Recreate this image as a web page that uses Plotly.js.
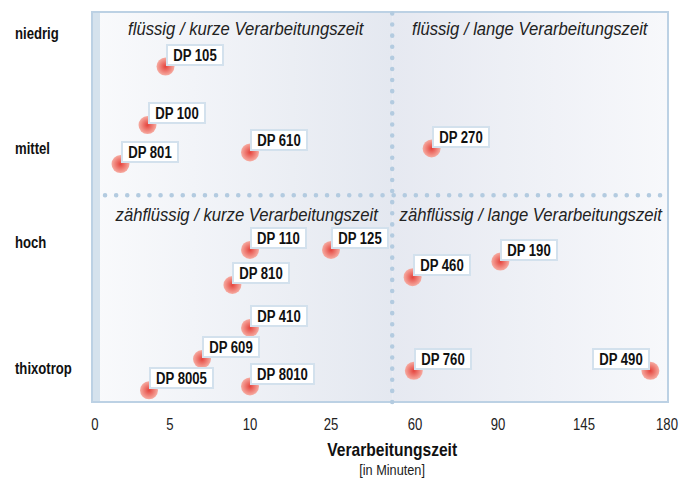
<!DOCTYPE html>
<html><head><meta charset="utf-8">
<script src="https://cdn.plot.ly/plotly-3.0.1.min.js"></script>
<style>
html,body{margin:0;padding:0;background:#fff;}
#chart{width:692px;height:481px;}
.shapelayer path{stroke-linecap:round;}
</style></head><body><div id="chart"></div>
<script>
// ---- data ----
const products = ['DP 105','DP 100','DP 801','DP 610','DP 270','DP 110','DP 125','DP 810','DP 410','DP 609','DP 8005','DP 8010','DP 460','DP 190','DP 760','DP 490'];
const minutes = [4.7,3.5,1.7,10,66,10,25,8.9,10,7,3.6,10,59,91.5,59.5,173];
const viscosity = [86,71,61,64,65,39,39,30,19,11,3,4,32,36,8,8];
const tickMinutes = [0,5,10,25,60,90,145,180];
const tickLabels = ['0','5','10','25','60','90','145','180'];
const levelLabels = ['niedrig','mittel','hoch','thixotrop'];
const levelValues = [94.5,65,41,8.6];
const quadrantTitles = ['flüssig / kurze Verarbeitungszeit','flüssig / lange Verarbeitungszeit','zähflüssig / kurze Verarbeitungszeit','zähflüssig / lange Verarbeitungszeit'];
const splitMinutes = 50.5;
const splitViscosity = 53;
const xTitle = 'Verarbeitungszeit';
const xSubtitle = '[in Minuten]';

// ---- axis scale (non-linear minute axis) ----
const TICK_POS = [0,75,155,236,320,403,489,572];
const X_RANGE = [-3,573];
const BAND = 8; // px width of left band
function toAxis(m){
  for(let i=0;i<tickMinutes.length-1;i++){
    if(m<=tickMinutes[i+1]){
      const f=(m-tickMinutes[i])/(tickMinutes[i+1]-tickMinutes[i]);
      return TICK_POS[i]+f*(TICK_POS[i+1]-TICK_POS[i]);
    }
  }
  return TICK_POS[TICK_POS.length-1];
}
const FONT = '"Liberation Sans",Arial,sans-serif';
const NARROW = 0.82, NARROW_IT = 0.9;
const splitX = toAxis(splitMinutes);
const bandRight = X_RANGE[0]+BAND;

const ctx=document.createElement('canvas').getContext('2d');
ctx.font='bold 16px '+FONT;

const traces=[
  {x:[X_RANGE[0],splitX,splitX,X_RANGE[0],X_RANGE[0]],y:[0,0,100,100,0],mode:'none',fill:'toself',
   fillgradient:{type:'horizontal',colorscale:[[0,'#f9fafc'],[1,'#e4e8f0']]},hoverinfo:'skip'},
  {x:[splitX,X_RANGE[1],X_RANGE[1],splitX,splitX],y:[0,0,100,100,0],mode:'none',fill:'toself',
   fillgradient:{type:'horizontal',colorscale:[[0,'#e6e9f1'],[1,'#f7f8fb']]},hoverinfo:'skip'},
  {x:minutes.map(toAxis),y:viscosity,mode:'markers',hoverinfo:'skip',
   marker:{size:18,color:'#f6aca2',gradient:{type:'radial',color:'#e5443d'},line:{width:0}}}
];

const annotations=[];
products.forEach((p,i)=>{
  const w=ctx.measureText(p).width*NARROW;
  annotations.push({x:toAxis(minutes[i]),y:viscosity[i],xref:'x',yref:'y',text:p,showarrow:false,
    xanchor:minutes[i]>150?'right':'left',yanchor:'bottom',yshift:1,
    width:Math.round(w+10),height:18,
    font:{family:FONT,size:16,color:'#111',weight:'bold'},
    bgcolor:'#ffffff',bordercolor:'#d3e1ed',borderwidth:2,borderpad:0});
});
levelLabels.forEach((l,i)=>{
  annotations.push({x:-79/576,xref:'paper',y:levelValues[i],yref:'y',text:l,showarrow:false,align:'left',
    xanchor:'left',yanchor:'middle',font:{family:FONT,size:16,color:'#111',weight:'bold'}});
});
const qx=[(bandRight+splitX)/2,(splitX+X_RANGE[1])/2];
quadrantTitles.forEach((t,i)=>{
  const top=i<2;
  annotations.push({x:qx[i%2],xref:'x',y:top?1:splitViscosity,yref:top?'paper':'y',
    yshift:top?-16:-19,text:t,showarrow:false,xanchor:'center',yanchor:'middle',
    font:{family:FONT,size:18.5,color:'#222',style:'italic'}});
});
annotations.push({x:splitX,xref:'x',y:0,yref:'paper',yshift:-47,text:xTitle,showarrow:false,
  xanchor:'center',yanchor:'middle',font:{family:FONT,size:19,color:'#111',weight:'bold'}});
annotations.push({x:splitX,xref:'x',y:0,yref:'paper',yshift:-67,text:xSubtitle,showarrow:false,
  xanchor:'center',yanchor:'middle',font:{family:FONT,size:15.5,color:'#222'}});

const dots='0.1px,11px';
const shapes=[
  {type:'rect',xref:'paper',yref:'paper',x0:0,x1:BAND/576,y0:0,y1:1,fillcolor:'#d5e2ed',line:{width:0},layer:'above'},
  {type:'rect',xref:'paper',yref:'paper',x0:0,x1:1,y0:0,y1:1,fillcolor:'rgba(0,0,0,0)',line:{color:'#bcd1e4',width:2},layer:'above'},
  {type:'line',xref:'x',yref:'paper',x0:splitX,x1:splitX,y0:0,y1:1,line:{color:'#b3cbe0',width:4.5,dash:dots},layer:'above'},
  {type:'line',xref:'x',yref:'y',x0:bandRight+5,x1:X_RANGE[1],y0:splitViscosity,y1:splitViscosity,line:{color:'#b3cbe0',width:4.5,dash:dots},layer:'above'}
];

const layout={
  width:692,height:481,margin:{l:92,r:24,t:12,b:79},
  paper_bgcolor:'#ffffff',plot_bgcolor:'#ffffff',showlegend:false,hovermode:false,
  xaxis:{range:X_RANGE,tickvals:TICK_POS,ticktext:tickLabels,showgrid:false,zeroline:false,showline:false,
    ticks:'outside',ticklen:8,tickcolor:'rgba(0,0,0,0)',tickfont:{family:FONT,size:16,color:'#222'},fixedrange:true},
  yaxis:{range:[0,100],showgrid:false,zeroline:false,showline:false,showticklabels:false,fixedrange:true},
  shapes:shapes,annotations:annotations
};
Plotly.newPlot('chart',traces,layout,{displayModeBar:false,staticPlot:true}).then(gd=>{
  // condensed lettering, like the original's narrow typeface
  gd.querySelectorAll('text').forEach(t=>{
    if(!t.textContent.trim()) return;
    const f=(t.style.fontStyle==='italic')?NARROW_IT:NARROW;
    const L=t.getComputedTextLength();
    t.setAttribute('textLength',(L*f).toFixed(2));
    t.setAttribute('lengthAdjust','spacingAndGlyphs');
  });
});
</script></body></html>
